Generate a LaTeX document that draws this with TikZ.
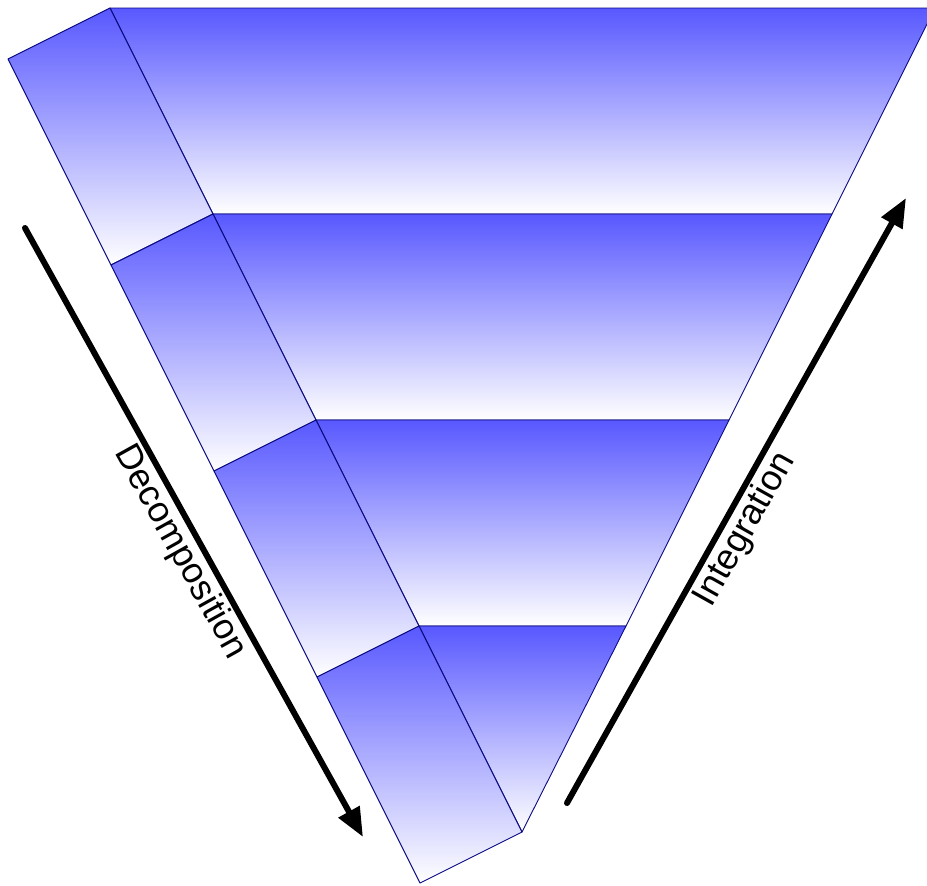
\documentclass[tikz,border=0pt]{standalone}
\usepackage{fontspec}
\setmainfont{Liberation Sans}
\usetikzlibrary{arrows.meta}
\definecolor{vblue}{RGB}{88,88,255}
\definecolor{vnavy}{RGB}{10,10,130}
\tikzset{
  face/.style={top color=vblue, bottom color=white, draw=vnavy, line width=0.9pt, line join=round},
  bigarrow/.style={line width=6pt, line cap=round, -{Triangle[length=29pt,width=23pt]}},
  lbl/.style={font=\fontsize{36}{43}\selectfont, inner sep=2pt}
}
\begin{document}
\begin{tikzpicture}[x=1pt,y=-1pt]
\useasboundingbox (0,0) rectangle (927,886);
\clip (0,0) rectangle (927,886);
% right (front) faces
\coordinate (t0l) at (110,8);   \coordinate (t0r) at (935,8);
\coordinate (t1l) at (213,214); \coordinate (t1r) at (832,214);
\coordinate (t2l) at (316,420); \coordinate (t2r) at (729,420);
\coordinate (t3l) at (419,626); \coordinate (t3r) at (626,626);
\coordinate (apex) at (522,832);
% left faces
\coordinate (l0) at (8,59);
\coordinate (l1) at (111,265);
\coordinate (l2) at (214,471);
\coordinate (l3) at (317,677);
\coordinate (l4) at (420,883);
\shadedraw[face] (t0l) -- (t0r) -- (t1r) -- (t1l) -- cycle;
\shadedraw[face] (t1l) -- (t1r) -- (t2r) -- (t2l) -- cycle;
\shadedraw[face] (t2l) -- (t2r) -- (t3r) -- (t3l) -- cycle;
\shadedraw[face] (t3l) -- (t3r) -- (apex) -- cycle;
\shadedraw[face] (l0) -- (t0l) -- (t1l) -- (l1) -- cycle;
\shadedraw[face] (l1) -- (t1l) -- (t2l) -- (l2) -- cycle;
\shadedraw[face] (l2) -- (t2l) -- (t3l) -- (l3) -- cycle;
\shadedraw[face] (l3) -- (t3l) -- (apex) -- (l4) -- cycle;
% arrows
\coordinate (d1) at (25,228);
\coordinate (d2) at (363,837);
\coordinate (i1) at (567,803);
\coordinate (i2) at (906,198);
\draw[bigarrow] (d1) -- node[lbl, sloped, below, pos=0.515] (dec) {Decomposition} (d2);
\draw[bigarrow] (i1) -- node[lbl, sloped, below, pos=0.47] (int) {Integration} (i2);
\end{tikzpicture}
\end{document}
